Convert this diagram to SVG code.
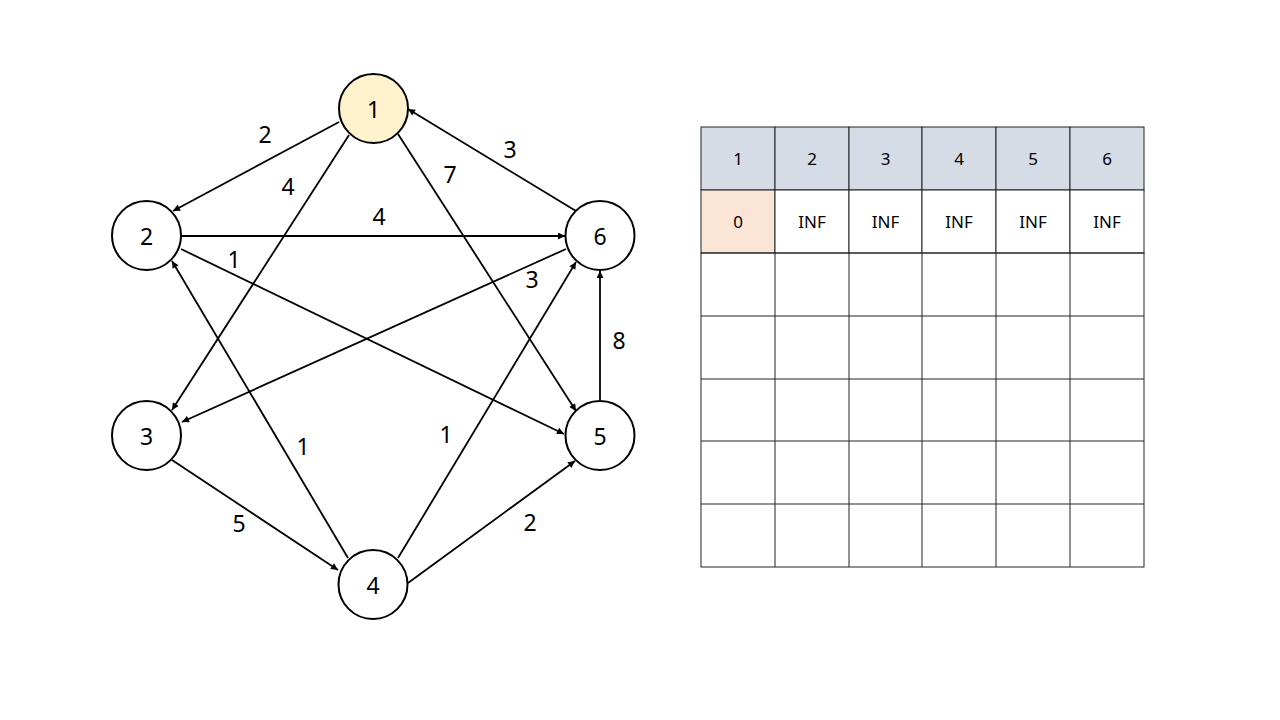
<svg xmlns="http://www.w3.org/2000/svg" width="1280" height="720" viewBox="0 0 1280 720">
<defs>
<marker id="arr" viewBox="0 0 10 10" refX="10" refY="5" markerWidth="9" markerHeight="7" markerUnits="userSpaceOnUse" orient="auto">
<path d="M0,0 L10,5 L0,10 z" fill="#000"/>
</marker>
<style>
.node circle{fill:#fff;stroke:#000;stroke-width:2}
.node text,.lbl{font-family:"Noto Sans","Noto Sans CJK KR",sans-serif;font-size:23px;fill:#000;text-anchor:middle;dominant-baseline:central}
.edge{stroke:#000;stroke-width:1.8;fill:none;marker-end:url(#arr)}
.cell{fill:#fff;stroke:#222;stroke-width:1}
.hdr{fill:#D6DCE5;stroke:#222;stroke-width:1}
.ct{font-family:"Noto Sans","Noto Sans CJK KR",sans-serif;font-size:17px;fill:#000;text-anchor:middle;dominant-baseline:central}
</style>
</defs>
<rect width="1280" height="720" fill="#fff"/>
<g id="connectors">
<line class="edge" x1="339" y1="122" x2="173" y2="211"/>
<line class="edge" x1="349" y1="135" x2="172" y2="410"/>
<line class="edge" x1="181" y1="236" x2="565" y2="236"/>
<line class="edge" x1="181" y1="249" x2="564" y2="434"/>
<line class="edge" x1="576" y1="211" x2="408" y2="109"/>
<line class="edge" x1="398" y1="134" x2="576" y2="411"/>
<line class="edge" x1="566" y1="249" x2="182" y2="422"/>
<line class="edge" x1="398" y1="558" x2="576" y2="262"/>
<line class="edge" x1="600" y1="400" x2="600" y2="271"/>
<line class="edge" x1="348" y1="558" x2="172" y2="261"/>
<line class="edge" x1="172" y1="460" x2="338" y2="570"/>
<line class="edge" x1="408" y1="583" x2="575" y2="461"/>
<text class="lbl" x="265" y="134">2</text>
<text class="lbl" x="288" y="186">4</text>
<text class="lbl" x="379" y="216">4</text>
<text class="lbl" x="234" y="259">1</text>
<text class="lbl" x="510" y="149">3</text>
<text class="lbl" x="450" y="174">7</text>
<text class="lbl" x="532" y="279">3</text>
<text class="lbl" x="446" y="434">1</text>
<text class="lbl" x="619" y="340">8</text>
<text class="lbl" x="303" y="446">1</text>
<text class="lbl" x="239" y="523">5</text>
<text class="lbl" x="530" y="522">2</text>
</g>
<g id="node1" class="node"><circle cx="373.5" cy="108.5" r="34.5" style="fill:#FFF2CC"/><text x="373.5" y="108.5">1</text></g>
<g id="node2" class="node"><circle cx="146.5" cy="235.5" r="34.5"/><text x="146.5" y="235.5">2</text></g>
<g id="node3" class="node"><circle cx="146.5" cy="435.5" r="34.5"/><text x="146.5" y="435.5">3</text></g>
<g id="node4" class="node"><circle cx="373" cy="584.5" r="34.5"/><text x="373" y="584.5">4</text></g>
<g id="node5" class="node"><circle cx="600" cy="435.5" r="34.5"/><text x="600" y="435.5">5</text></g>
<g id="node6" class="node"><circle cx="600" cy="235.5" r="34.5"/><text x="600" y="235.5">6</text></g>
<g id="table">
<rect class="hdr" x="701" y="127" width="74" height="63"/>
<rect class="hdr" x="775" y="127" width="74" height="63"/>
<rect class="hdr" x="849" y="127" width="73" height="63"/>
<rect class="hdr" x="922" y="127" width="74" height="63"/>
<rect class="hdr" x="996" y="127" width="74" height="63"/>
<rect class="hdr" x="1070" y="127" width="74" height="63"/>
<rect class="cell" x="701" y="190" width="74" height="63" style="fill:#FBE5D6"/>
<rect class="cell" x="775" y="190" width="74" height="63"/>
<rect class="cell" x="849" y="190" width="73" height="63"/>
<rect class="cell" x="922" y="190" width="74" height="63"/>
<rect class="cell" x="996" y="190" width="74" height="63"/>
<rect class="cell" x="1070" y="190" width="74" height="63"/>
<g fill="none" stroke="#222" stroke-width="1">
<rect x="701" y="253" width="443" height="314"/>
<line x1="701" y1="316" x2="1144" y2="316"/>
<line x1="701" y1="379" x2="1144" y2="379"/>
<line x1="701" y1="441" x2="1144" y2="441"/>
<line x1="701" y1="504" x2="1144" y2="504"/>
<line x1="775" y1="253" x2="775" y2="567"/>
<line x1="849" y1="253" x2="849" y2="567"/>
<line x1="922" y1="253" x2="922" y2="567"/>
<line x1="996" y1="253" x2="996" y2="567"/>
<line x1="1070" y1="253" x2="1070" y2="567"/>
</g>
<text class="ct" x="738" y="158.5">1</text>
<text class="ct" x="812" y="158.5">2</text>
<text class="ct" x="885.5" y="158.5">3</text>
<text class="ct" x="959" y="158.5">4</text>
<text class="ct" x="1033" y="158.5">5</text>
<text class="ct" x="1107" y="158.5">6</text>
<text class="ct" x="738" y="221.5">0</text>
<text class="ct" x="812" y="221.5">INF</text>
<text class="ct" x="885.5" y="221.5">INF</text>
<text class="ct" x="959" y="221.5">INF</text>
<text class="ct" x="1033" y="221.5">INF</text>
<text class="ct" x="1107" y="221.5">INF</text>
</g>
</svg>
